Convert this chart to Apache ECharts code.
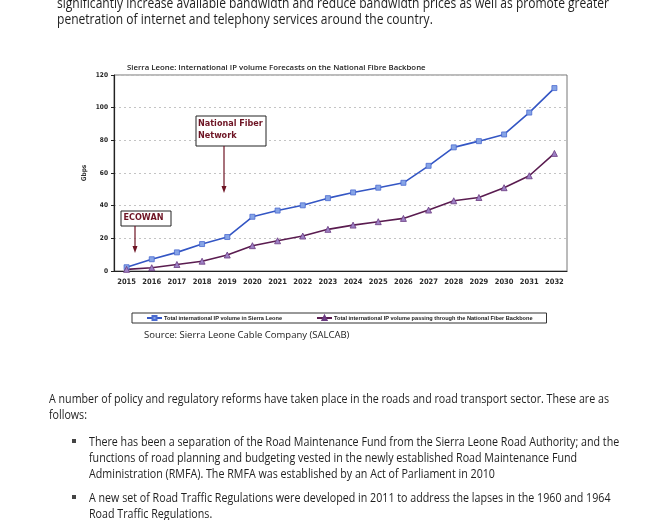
<!DOCTYPE html>
<html>
<head>
<meta charset="utf-8">
<script src="https://cdn.jsdelivr.net/npm/echarts@6/dist/echarts.min.js"></script>
<style>
html,body{margin:0;padding:0;background:#fff;}
#wrap{position:relative;width:668px;height:520px;overflow:hidden;background:#fff;}
#chart{position:absolute;left:0;top:0;width:668px;height:520px;}
.ln{position:absolute;white-space:nowrap;font-family:"Open Sans","Noto Sans",sans-serif;font-size:13px;line-height:16px;color:#1e1e1e;transform-origin:0 0;}
.top{font-size:14.5px;line-height:17px;}
.bul{position:absolute;width:4px;height:4px;background:#444;}
</style>
</head>
<body>
<div id="wrap">
<div id="chart"></div>
</div>
<script>
// ---- data ----
const years = ['2015','2016','2017','2018','2019','2020','2021','2022','2023','2024','2025','2026','2027','2028','2029','2030','2031','2032'];
const totalIP = [2.3, 7.2, 11.4, 16.5, 20.8, 33.2, 37.0, 40.2, 44.6, 48.1, 51.0, 54.0, 64.4, 75.7, 79.5, 83.6, 97.0, 112.0];
const fiberIP = [1.0, 2.0, 4.0, 6.0, 9.8, 15.5, 18.5, 21.4, 25.5, 28.1, 30.2, 32.2, 37.3, 43.0, 45.0, 51.0, 58.3, 72.0];
const seriesNames = ['Total international IP volume in Sierra Leone', 'Total international IP volume passing through the National Fiber Backbone'];
const chartTitle = 'Sierra Leone: International IP volume Forecasts on the National Fibre Backbone';
const sourceText = 'Source: Sierra Leone Cable Company (SALCAB)';
const yTickLabels = ['0','20','40','60','80','100','120'];

// ---- body text: top paragraph and lower paragraph, [text, left, top] ----
const topLines = [
  ['significantly increase available bandwidth and reduce bandwidth prices as well as promote greater', 57, -6],
  ['penetration of internet and telephony services around the country.', 57, 10]
];
const lowerLines = [
  ['A number of policy and regulatory reforms have taken place in the roads and road transport sector. These are as', 49, 390],
  ['follows:', 49, 406],
  ['There has been a separation of the Road Maintenance Fund from the Sierra Leone Road Authority; and the', 89, 433],
  ['functions of road planning and budgeting vested in the newly established Road Maintenance Fund', 89, 449],
  ['Administration (RMFA). The RMFA was established by an Act of Parliament in 2010', 89, 465],
  ['A new set of Road Traffic Regulations were developed in 2011 to address the lapses in the 1960 and 1964', 89, 489],
  ['Road Traffic Regulations.', 89, 505]
];
const bullets = [[72, 439], [72, 495]];

const wrap = document.getElementById('wrap');
function placeBlock(lines, cls, refIdx, refWidth) {
  const divs = lines.map(function (l) {
    const d = document.createElement('div');
    d.className = cls;
    d.textContent = l[0];
    d.style.left = l[1] + 'px';
    d.style.top = l[2] + 'px';
    wrap.appendChild(d);
    return d;
  });
  const s = refWidth / divs[refIdx].getBoundingClientRect().width;
  divs.forEach(function (d) { d.style.transform = 'scaleX(' + s + ')'; });
}
placeBlock(topLines, 'ln top', 0, 552);
placeBlock(lowerLines, 'ln', 0, 560);
bullets.forEach(function (b) {
  const d = document.createElement('div');
  d.className = 'bul';
  d.style.left = b[0] + 'px';
  d.style.top = b[1] + 'px';
  wrap.appendChild(d);
});

const narrow = '"Liberation Sans Narrow","DejaVu Sans Condensed",sans-serif';
const annColor = '#6e1424';

const chart = echarts.init(document.getElementById('chart'));
chart.setOption({
  animation: false,
  backgroundColor: 'transparent',
  title: {
    text: chartTitle,
    left: 122, top: 59,
    textStyle: { fontSize: 7.8, fontWeight: 600, color: '#222', fontFamily: '"Open Sans",sans-serif' }
  },
  grid: { left: 114, right: 101, top: 75, bottom: 249, show: true, borderColor: '#777', borderWidth: 1 },
  legend: {
    left: 132, top: 313,
    data: seriesNames,
    borderColor: '#333', borderWidth: 1, borderRadius: 0,
    padding: [2, 14, 2, 14],
    itemGap: 34, itemWidth: 15, itemHeight: 5,
    textStyle: { fontSize: 5.6, fontWeight: 'bold', color: '#1a1a1a', fontFamily: '"Liberation Sans",sans-serif', padding: [0,0,0,-3] }
  },
  xAxis: {
    type: 'category',
    data: years,
    boundaryGap: true,
    axisLine: { lineStyle: { color: '#222', width: 1.2 } },
    axisTick: { length: 3, lineStyle: { color: '#222' } },
    axisLabel: { interval: 0, fontSize: 7.5, fontWeight: 'bold', color: '#2a2a2a', fontFamily: narrow, margin: 7 }
  },
  yAxis: {
    type: 'value',
    min: 0, max: 120, interval: 20,
    name: 'Gbps', nameLocation: 'middle', nameRotate: 90, nameGap: 26, nameMoveOverlap: false,
    nameTextStyle: { fontSize: 6.5, fontWeight: 'bold', color: '#333', fontFamily: narrow },
    axisLine: { show: true, lineStyle: { color: '#222', width: 1.2 } },
    axisTick: { show: true, length: 3, lineStyle: { color: '#222' } },
    axisLabel: { fontSize: 6.5, fontWeight: 'bold', color: '#222', fontFamily: narrow, margin: 6,
      formatter: function (v) { return yTickLabels[v / 20]; } },
    splitLine: { lineStyle: { color: '#c4c4c4', type: [2, 3], width: 1 } }
  },
  series: [
    {
      name: seriesNames[0], type: 'line', data: totalIP,
      symbol: 'rect', symbolSize: 5,
      lineStyle: { color: '#3456c4', width: 1.6 },
      itemStyle: { color: '#86a4e6', borderColor: '#4a6ad0', borderWidth: 0.8 }
    },
    {
      name: seriesNames[1], type: 'line', data: fiberIP,
      symbol: 'triangle', symbolSize: 6,
      lineStyle: { color: '#5a1c50', width: 1.6 },
      itemStyle: { color: '#9d80c4', borderColor: '#6a3a80', borderWidth: 0.8 }
    }
  ],
  graphic: [
    { type: 'rect', shape: { x: 196, y: 116, width: 70, height: 30 }, style: { fill: '#fff', stroke: '#222', lineWidth: 1 }, z: 100 },
    { type: 'text', x: 198, y: 118, style: { text: 'National Fiber\nNetwork', fill: annColor, font: 'bold 9px ' + narrow, lineHeight: 12 }, z: 101 },
    { type: 'line', shape: { x1: 224, y1: 146, x2: 224, y2: 190 }, style: { stroke: annColor, lineWidth: 1.2 }, z: 100 },
    { type: 'polygon', shape: { points: [[221.5, 186], [226.5, 186], [224, 193]] }, style: { fill: annColor }, z: 100 },
    { type: 'rect', shape: { x: 121, y: 211, width: 50, height: 15 }, style: { fill: '#fff', stroke: '#222', lineWidth: 1 }, z: 100 },
    { type: 'text', x: 123.5, y: 213.5, style: { text: 'ECOWAN', fill: annColor, font: 'bold 9px ' + narrow }, z: 101 },
    { type: 'line', shape: { x1: 135, y1: 226, x2: 135, y2: 250 }, style: { stroke: annColor, lineWidth: 1.2 }, z: 100 },
    { type: 'polygon', shape: { points: [[132.5, 246], [137.5, 246], [135, 253]] }, style: { fill: annColor }, z: 100 },
    { type: 'text', x: 144, y: 330, style: { text: sourceText, fill: '#222', font: '9.5px "Open Sans",sans-serif' } }
  ]
});
</script>
</body>
</html>
